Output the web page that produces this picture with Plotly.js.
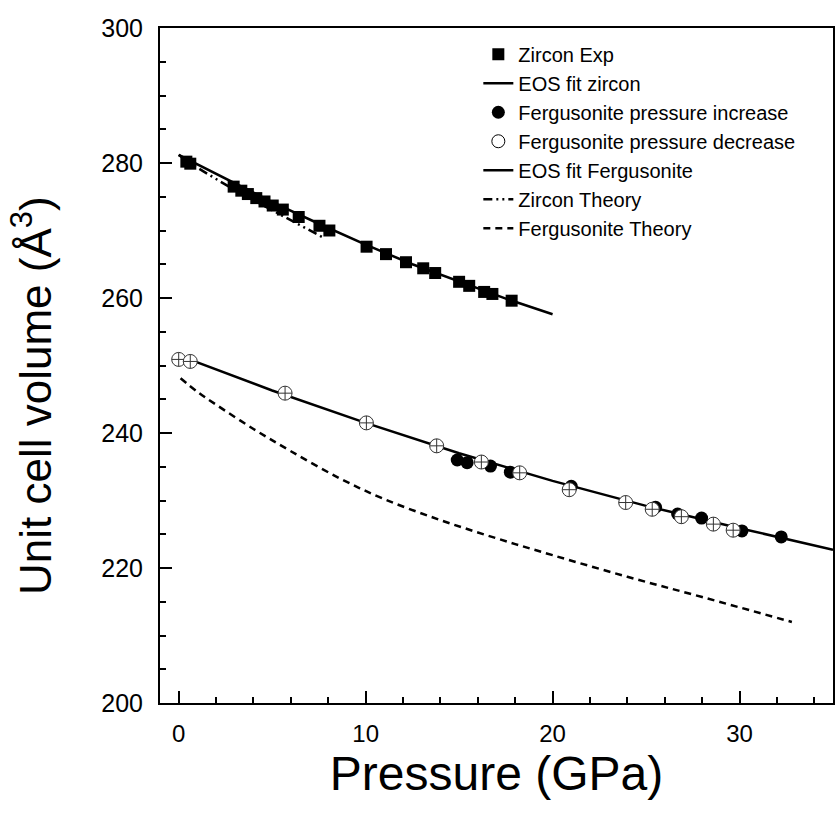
<!DOCTYPE html>
<html>
<head>
<meta charset="utf-8">
<script src="https://cdn.plot.ly/plotly-3.0.1.min.js"></script>
<style>html,body{margin:0;padding:0;background:#fff;}#chart{width:835px;height:821px;}</style>
</head>
<body>
<div id="chart"></div>
<script>
// Zircon experimental data
const zirconP = [0.41, 0.62, 2.94, 3.35, 3.70, 4.15, 4.59, 5.03, 5.57, 6.42, 7.53, 8.06, 10.05, 11.09, 12.16, 13.08, 13.72, 15.0, 15.54, 16.34, 16.78, 17.81];
const zirconV = [280.2, 279.9, 276.5, 275.9, 275.4, 274.8, 274.3, 273.7, 273.1, 272.0, 270.7, 270.0, 267.6, 266.5, 265.3, 264.4, 263.7, 262.4, 261.8, 260.9, 260.6, 259.6];
// EOS fit zircon
const zirconFitP = [0, 2.5, 5, 7.5, 10, 12.5, 15, 17.5, 20];
const zirconFitV = [281.2, 277.7, 274.2, 271.0, 267.9, 265.0, 262.4, 259.9, 257.6];
// Zircon theory
const zirconThP = [0, 1, 2.2, 3.5, 5, 6.5, 7.7];
const zirconThV = [281.2, 279.3, 277.3, 275.2, 273.0, 270.8, 269.0];
// Fergusonite pressure increase
const fergIncP = [14.90, 15.43, 16.68, 17.74, 21.0, 25.51, 26.69, 27.97, 30.13, 32.23];
const fergIncV = [236.0, 235.6, 235.1, 234.2, 232.1, 229.0, 228.0, 227.4, 225.5, 224.6];
// Fergusonite pressure decrease
const fergDecP = [0.0, 0.62, 5.69, 10.04, 13.8, 16.19, 18.24, 20.89, 23.91, 25.33, 26.89, 28.60, 29.66];
const fergDecV = [250.9, 250.6, 245.9, 241.5, 238.1, 235.7, 234.1, 231.6, 229.7, 228.7, 227.6, 226.5, 225.6];
// EOS fit fergusonite
const fergFitP = [0, 2, 5, 10, 15, 20, 25, 30, 35];
const fergFitV = [251.5, 249.4, 246.3, 241.5, 237.0, 232.9, 229.2, 225.9, 222.7];
// Fergusonite theory
const fergThP = [0.1, 1, 2, 4, 6, 8.6, 11, 14, 17, 20, 24, 28, 32.8];
const fergThV = [248.1, 246.1, 244.2, 240.6, 237.3, 233.3, 230.2, 227.1, 224.4, 221.9, 218.7, 215.7, 212.0];

const xTickVals = [0, 10, 20, 30];
const yTickVals = [200, 220, 240, 260, 280, 300];

const FONT = 'Liberation Sans, Arial, Helvetica, sans-serif';

const traces = [
  {x: zirconFitP, y: zirconFitV, mode: 'lines', name: 'EOS fit zircon', legendrank: 2,
   line: {color: '#000', width: 2.5}},
  {x: fergFitP, y: fergFitV, mode: 'lines', name: 'EOS fit Fergusonite', legendrank: 5,
   line: {color: '#000', width: 2.5}},
  {x: zirconThP, y: zirconThV, mode: 'lines', name: 'Zircon Theory', legendrank: 6,
   line: {color: '#000', width: 2.5, dash: '9px,4px,2px,4px,2px,4px'}},
  {x: fergThP, y: fergThV, mode: 'lines', name: 'Fergusonite Theory', legendrank: 7,
   line: {color: '#000', width: 2.5, dash: '7px,5px', shape: 'spline'}},
  {x: zirconP, y: zirconV, mode: 'markers', name: 'Zircon Exp', legendrank: 1,
   marker: {symbol: 'square', size: 12, color: '#000'}},
  {x: fergIncP, y: fergIncV, mode: 'markers', name: 'Fergusonite pressure increase', legendrank: 3,
   marker: {symbol: 'circle', size: 13, color: '#000'}},
  {x: fergDecP, y: fergDecV, mode: 'markers', name: 'Fergusonite pressure decrease', showlegend: false,
   marker: {symbol: 'circle-cross', size: 14, color: '#fff', line: {color: '#333', width: 1}}},
  // legend entry only (plain open circle, as in the reference legend)
  {x: [null], y: [null], mode: 'markers', name: 'Fergusonite pressure decrease', legendrank: 4,
   marker: {symbol: 'circle-open', size: 13, color: '#000', line: {width: 1}}}
];

const layout = {
  width: 835, height: 821,
  margin: {l: 160, r: 2, t: 28, b: 118, pad: 0},
  paper_bgcolor: '#fff', plot_bgcolor: '#fff',
  font: {family: FONT, color: '#000'},
  showlegend: true,
  legend: {x: 0.473, xanchor: 'left', y: 0.99, yanchor: 'top',
           bgcolor: 'rgba(0,0,0,0)', borderwidth: 0,
           font: {family: FONT, size: 20, color: '#000'}, tracegroupgap: 0},
  xaxis: {
    range: [-1, 35], showgrid: false, zeroline: false,
    showline: true, linecolor: '#000', linewidth: 2, mirror: true,
    ticks: 'inside', ticklen: 12, tickwidth: 2, tickcolor: '#000',
    tickvals: xTickVals, ticktext: xTickVals.map(String),
    minor: {ticks: 'inside', ticklen: 6, tickwidth: 2, tickcolor: '#000', dtick: 2, tick0: 0},
    tickfont: {family: FONT, size: 24, color: '#000'},
    ticklabelstandoff: 8,
    title: {text: 'Pressure (GPa)', font: {family: FONT, size: 48, color: '#000'}, standoff: 6}
  },
  yaxis: {
    range: [200, 300], showgrid: false, zeroline: false,
    showline: true, linecolor: '#000', linewidth: 2, mirror: true,
    ticks: 'inside', ticklen: 12, tickwidth: 2, tickcolor: '#000',
    tickvals: yTickVals, ticktext: yTickVals.map(String),
    minor: {ticks: 'inside', ticklen: 6, tickwidth: 2, tickcolor: '#000', dtick: 5, tick0: 200},
    tickfont: {family: FONT, size: 25, color: '#000'},
    ticklabelstandoff: 10
  },
  annotations: [
    {text: 'Unit cell volume (Å<sup>3</sup>)', xref: 'paper', yref: 'paper',
     x: -0.19, y: 0.455, xanchor: 'center', yanchor: 'middle', textangle: -90,
     showarrow: false, font: {family: FONT, size: 44, color: '#000'}}
  ]
};

Plotly.newPlot('chart', traces, layout, {displayModeBar: false, staticPlot: true});
</script>
</body>
</html>
